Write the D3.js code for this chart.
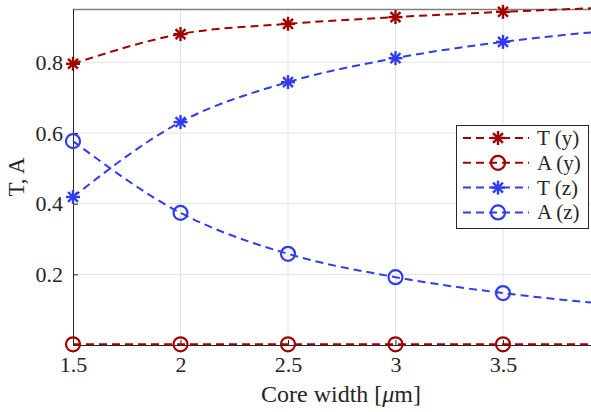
<!DOCTYPE html>
<html><head><meta charset="utf-8">
<script src="https://cdn.jsdelivr.net/npm/d3@7"></script>
<style>
body{margin:0;background:#fff;}
svg{display:block;}
</style></head>
<body>
<svg id="chart" width="591" height="412"></svg>
<script>
const coreWidth = [1.5, 2, 2.5, 3, 3.5, 4];
const markerWidths = [1.5, 2, 2.5, 3, 3.5];
const T_y = [0.796, 0.880, 0.909, 0.928, 0.943, 0.955];
const A_y = [0.002, 0.002, 0.002, 0.002, 0.002, 0.002];
const T_z = [0.419, 0.631, 0.744, 0.812, 0.858, 0.890];
const A_z = [0.577, 0.374, 0.258, 0.192, 0.147, 0.115];
const xTicks = [1.5, 2, 2.5, 3, 3.5];
const yTicks = [0.2, 0.4, 0.6, 0.8];
const seriesNames = ["T (y)", "A (y)", "T (z)", "A (z)"];
const seriesColors = ["#a00000", "#a00000", "#2f3cf0", "#2f3cf0"];
const seriesMarkers = ["star", "circle", "star", "circle"];
const seriesValues = [T_y, A_y, T_z, A_z];

(function(){
const FONT = "'Liberation Serif', serif";
const TXT = "#262626";
const svg = d3.select("#chart");
const pL = 73, pT = 9, pB = 345;
const x = d3.scaleLinear().domain([1.5, 4]).range([pL, pL + 2.5 * 215]);
const y = d3.scaleLinear().domain([0, 0.951]).range([pB, pT]);
const W = 591;

const defs = svg.append("defs");
defs.append("clipPath").attr("id","clip").append("rect")
  .attr("x", pL - 10).attr("y", pT - 10).attr("width", W - pL + 10).attr("height", pB - pT + 20);

// grid
const g = svg.append("g");
g.selectAll(".gx").data(xTicks.slice(1)).enter().append("line")
  .attr("x1", d => x(d)).attr("x2", d => x(d)).attr("y1", pT).attr("y2", pB)
  .attr("stroke", "#e3e3e3").attr("stroke-width", 1);
g.selectAll(".gy").data(yTicks).enter().append("line")
  .attr("x1", pL).attr("x2", W).attr("y1", d => y(d)).attr("y2", d => y(d))
  .attr("stroke", "#e3e3e3").attr("stroke-width", 1);

// box top line
svg.append("line").attr("x1", pL).attr("x2", W).attr("y1", pT + 0.5).attr("y2", pT + 0.5)
  .attr("stroke", "#808080").attr("stroke-width", 1.5);

// axes
const xAxis = d3.axisBottom(x).tickValues(xTicks).tickSize(-5).tickPadding(11).tickFormat(d3.format(""));
const yAxis = d3.axisLeft(y).tickValues(yTicks).tickSize(-5).tickPadding(10).tickFormat(d3.format(".1f"));
const gx = svg.append("g").attr("transform", `translate(0,${pB})`).call(xAxis);
const gy = svg.append("g").attr("transform", `translate(${pL},0)`).call(yAxis);
gx.select(".domain").attr("d", `M${pL},0.5H${W}`).attr("stroke", TXT);
gy.select(".domain").attr("d", `M0.5,${pT}V${pB}`).attr("stroke", TXT);
[gx, gy].forEach(a => {
  a.attr("font-family", null).attr("font-size", null);
  a.selectAll(".tick line").attr("stroke", TXT);
  a.selectAll(".tick text").style("font-family", FONT).style("font-size", "22px").style("fill", TXT);
});

// labels
svg.append("text").attr("transform", `translate(24,${(pT+pB)/2}) rotate(-90)`)
  .attr("text-anchor", "middle").style("font-family", FONT).style("font-size", "23px").style("fill", TXT).text("T, A");
const xl = svg.append("text").attr("x", 341).attr("y", 402).attr("text-anchor", "middle")
  .style("font-family", FONT).style("font-size", "24px").style("fill", TXT);
xl.append("tspan").text("Core width [");
xl.append("tspan").style("font-style", "italic").text("μ");
xl.append("tspan").text("m]");

// series
const line = d3.line().x((d, i) => x(coreWidth[i])).y(d => y(d)).curve(d3.curveMonotoneX);
const plot = svg.append("g").attr("clip-path", "url(#clip)");
const star = (sel, cx, cy, r, color) => {
  const gS = sel.append("g").attr("transform", `translate(${cx},${cy})`);
  for (let k = 0; k < 4; k++) {
    const a = k * Math.PI / 4;
    gS.append("line").attr("x1", -r * Math.cos(a)).attr("y1", -r * Math.sin(a))
      .attr("x2", r * Math.cos(a)).attr("y2", r * Math.sin(a))
      .attr("stroke", color).attr("stroke-width", 2.4);
  }
};
const circ = (sel, cx, cy, r, color) => {
  sel.append("circle").attr("cx", cx).attr("cy", cy).attr("r", r)
    .attr("fill", "none").attr("stroke", color).attr("stroke-width", 2.2);
};
seriesValues.forEach((vals, si) => {
  plot.append("path").attr("d", line(vals)).attr("fill", "none")
    .attr("stroke", seriesColors[si]).attr("stroke-width", 2).attr("stroke-dasharray", "8,5");
  markerWidths.forEach((w, i) => {
    if (seriesMarkers[si] === "star") star(plot, x(w), y(vals[i]), 7, seriesColors[si]);
    else circ(plot, x(w), y(vals[i]), 7, seriesColors[si]);
  });
});

// legend
const lg = svg.append("g");
lg.append("rect").attr("x", 456.5).attr("y", 125.5).attr("width", 132).attr("height", 103)
  .attr("fill", "#fff").attr("stroke", TXT).attr("stroke-width", 1);
seriesNames.forEach((nm, i) => {
  const yy = 138 + i * 24.8;
  lg.append("line").attr("x1", 463).attr("x2", 529).attr("y1", yy).attr("y2", yy)
    .attr("stroke", seriesColors[i]).attr("stroke-width", 2).attr("stroke-dasharray", "8,5");
  if (seriesMarkers[i] === "star") star(lg, 498, yy, 7, seriesColors[i]);
  else circ(lg, 498, yy, 7, seriesColors[i]);
  lg.append("text").attr("x", 537).attr("y", yy + 7)
    .style("font-family", FONT).style("font-size", "21px").style("fill", TXT).text(nm);
});
})();
</script>
</body></html>
